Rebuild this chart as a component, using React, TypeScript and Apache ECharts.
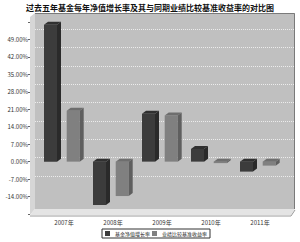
import React, { useEffect, useRef } from "react";
import * as echarts from "echarts";

const TITLE = "过去五年基金每年净值增长率及其与同期业绩比较基准收益率的对比图";
const categories = ["2007年", "2008年", "2009年", "2010年", "2011年"];
const seriesNames = ["基金净值增长率", "业绩比较基准收益率"];
const fundGrowth = [54.9, -17.4, 19.2, 5.1, -4.0];
const benchmarkReturn = [20.4, -13.8, 18.5, -0.6, -1.6];
const yMin = -21;
const yMax = 56;
const yStep = 7;

const FONT = "'Noto Sans CJK SC', 'Noto Sans', sans-serif";

function make3DBar(offset: number, front: string, top: string, side: string) {
  return (params: any, api: any) => {
    const i = api.value(0);
    const v = api.value(1);
    const base = api.coord([i, 0]);
    const end = api.coord([i, v]);
    const cx = base[0];
    const w = 13;
    const dx = 4;
    const dy = 3;
    const l = cx + offset;
    const t = Math.min(base[1], end[1]);
    const b = Math.max(base[1], end[1]);
    return {
      type: "group",
      children: [
        {
          type: "rect",
          shape: { x: l, y: t, width: w, height: Math.max(b - t, 0.5) },
          style: { fill: front },
        },
        {
          type: "polygon",
          shape: {
            points: [
              [l, t],
              [l + dx, t - dy],
              [l + w + dx, t - dy],
              [l + w, t],
            ],
          },
          style: { fill: top },
        },
        {
          type: "polygon",
          shape: {
            points: [
              [l + w, t],
              [l + w + dx, t - dy],
              [l + w + dx, b - dy],
              [l + w, b],
            ],
          },
          style: { fill: side },
        },
      ],
    };
  };
}

export default function App() {
  const ref = useRef<HTMLDivElement>(null);
  useEffect(() => {
    if (!ref.current) return;
    const chart = echarts.init(ref.current, undefined, { renderer: "svg" });
    const option: any = {
      animation: false,
      backgroundColor: "#ffffff",
      textStyle: { fontFamily: FONT },
      title: {
        text: TITLE,
        left: "center",
        top: 3,
        padding: 0,
        textStyle: { fontSize: 8, fontWeight: "bold", color: "#111", fontFamily: FONT },
      },
      graphic: {
        elements: [
          {
            type: "polygon",
            z: -10,
            shape: { points: [[35, 13], [295, 13], [295, 209], [35, 209]] },
            style: { fill: "#c0c0c0" },
          },
          {
            type: "polygon",
            z: -10,
            shape: { points: [[30, 17], [35, 13], [35, 209], [30, 215]] },
            style: { fill: "#d6d6d6" },
          },
          {
            type: "polygon",
            z: -10,
            shape: { points: [[35, 209], [295, 209], [291, 215], [30, 215]] },
            style: { fill: "#e4e4e4" },
          },
          {
            type: "polyline",
            z: -9,
            shape: { points: [[35, 13.5], [294.5, 13.5], [294.5, 209]] },
            style: { stroke: "#7a7a7a", lineWidth: 1, fill: "none" },
          },
          {
            type: "polyline",
            z: -9,
            shape: { points: [[30, 216], [291, 216], [295, 210]] },
            style: { stroke: "#9a9a9a", lineWidth: 1, fill: "none" },
          },
        ],
      },
      legend: {
        data: seriesNames,
        left: 102,
        top: 229,
        orient: "horizontal",
        itemWidth: 5,
        itemHeight: 5,
        itemGap: 2,
        padding: [2, 3],
        borderColor: "#333",
        borderWidth: 1,
        icon: "rect",
        textStyle: { fontSize: 5, color: "#222", fontFamily: FONT },
      },
      grid: [
        { left: 39.5, right: 15.5, top: 22, bottom: 28 },
        { left: 35, right: 5, top: 29.3, bottom: 66 },
      ],
      xAxis: [
        {
          type: "category",
          gridIndex: 0,
          data: categories,
          axisLine: { show: false },
          axisTick: { show: false },
          axisLabel: { fontSize: 6, color: "#333", margin: 5, fontFamily: FONT },
        },
        { type: "value", gridIndex: 1, show: false, min: 0, max: 1 },
      ],
      yAxis: [
        {
          type: "value",
          gridIndex: 0,
          min: yMin,
          max: yMax,
          interval: yStep,
          offset: 9.5,
          axisLine: { show: false },
          axisTick: { show: true, length: 2, lineStyle: { color: "#666" } },
          splitLine: { show: false },
          axisLabel: {
            fontSize: 6,
            color: "#333",
            margin: 2,
            fontFamily: FONT,
            formatter: (v: number) =>
              v <= yMin || v >= yMax ? "" : v.toFixed(2) + "%",
          },
        },
        {
          type: "value",
          gridIndex: 1,
          min: -7,
          max: 49,
          interval: 7,
          axisLine: { show: false },
          axisTick: { show: false },
          axisLabel: { show: false },
          splitLine: { show: true, lineStyle: { color: "#ececec", type: "dotted", width: 1 } },
        },
      ],
      series: [
        {
          type: "custom",
          name: seriesNames[0],
          xAxisIndex: 0,
          yAxisIndex: 0,
          itemStyle: { color: "#3c3c3c" },
          renderItem: make3DBar(-20, "#3c3c3c", "#303030", "#2a2a2a"),
          data: fundGrowth.map((v, i) => [i, v]),
          z: 5,
        },
        {
          type: "custom",
          name: seriesNames[1],
          xAxisIndex: 0,
          yAxisIndex: 0,
          itemStyle: { color: "#808080" },
          renderItem: make3DBar(2.7, "#808080", "#6e6e6e", "#5f5f5f"),
          data: benchmarkReturn.map((v, i) => [i, v]),
          z: 5,
        },
      ],
    };
    chart.setOption(option);
    return () => chart.dispose();
  }, []);
  return (
    <div
      ref={ref}
      style={{ position: "fixed", left: 0, top: 0, width: 300, height: 242 }}
    />
  );
}
